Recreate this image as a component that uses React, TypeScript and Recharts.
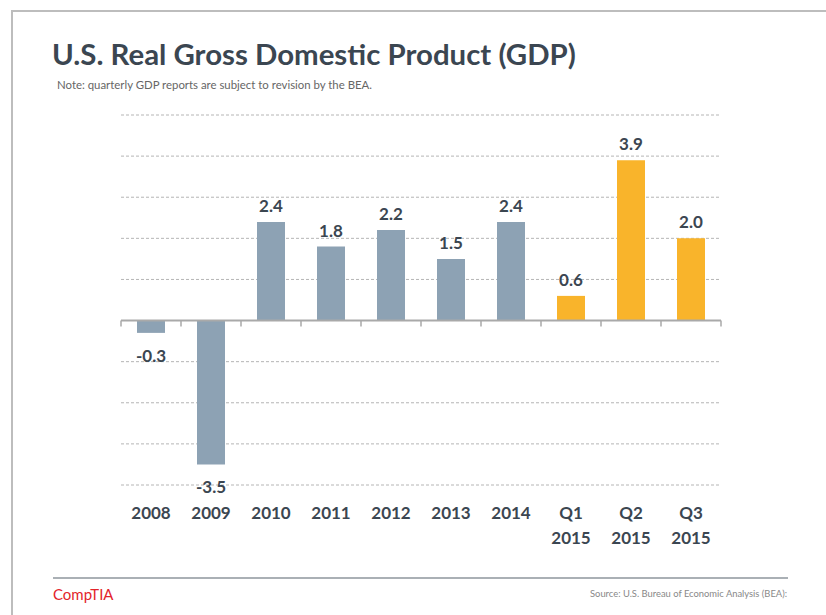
import React from 'react';
import { BarChart, Bar, XAxis, YAxis, CartesianGrid, ReferenceLine, LabelList, Cell } from 'recharts';

// Real GDP growth, percent
const categories = ['2008', '2009', '2010', '2011', '2012', '2013', '2014', 'Q1 2015', 'Q2 2015', 'Q3 2015'];
const growth = [-0.3, -3.5, 2.4, 1.8, 2.2, 1.5, 2.4, 0.6, 3.9, 2.0];
const periods = ['annual', 'annual', 'annual', 'annual', 'annual', 'annual', 'annual', 'quarter', 'quarter', 'quarter'];
const yTicks = [-4, -3, -2, -1, 0, 1, 2, 3, 4, 5];

const data = categories.map((name, i) => ({ name, value: growth[i], period: periods[i] }));

const periodColor: Record<string, string> = {
  annual: '#8da2b4',
  quarter: '#f9b42b',
};

const TEXT = '#3b4651';
const FONT = 'Lato, "Open Sans", sans-serif';

const CategoryTick = (props: any) => {
  const { x, y, payload } = props;
  const lines = String(payload.value).split(' ');
  return (
    <text x={x} y={y} textAnchor="middle" fill={TEXT} fontFamily={FONT} fontWeight={700} fontSize={17}>
      {lines.map((l, i) => (
        <tspan key={i} x={x} dy={i === 0 ? 34 : 25}>{l}</tspan>
      ))}
    </text>
  );
};

const ValueLabel = (props: any) => {
  const { x, y, width, height, value } = props;
  const top = Math.min(y, y + height);
  const bottom = Math.max(y, y + height);
  const ty = value < 0 ? bottom + 29 : top - 10;
  return (
    <text x={x + width / 2} y={ty} textAnchor="middle" fill={TEXT} fontFamily={FONT} fontWeight={700} fontSize={17}>
      {value.toFixed(1)}
    </text>
  );
};

// zero line with category divider ticks
const ZeroLine = (props: any) => {
  const { x1, y1, x2 } = props;
  const n = categories.length;
  const step = (x2 - x1) / n;
  return (
    <g>
      <line x1={x1} y1={y1} x2={x2} y2={y1} stroke="#a9a9a9" strokeWidth={2} />
      {Array.from({ length: n + 1 }, (_, i) => (
        <line key={i} x1={x1 + step * i} y1={y1} x2={x1 + step * i} y2={y1 + 6} stroke="#a9a9a9" strokeWidth={1.5} />
      ))}
    </g>
  );
};

export default function App() {
  return (
    <div style={{ position: 'absolute', left: 0, top: 0, width: 826, height: 615, background: '#fff', overflow: 'hidden' }}>
      <div style={{ position: 'absolute', left: 11, top: 10, width: 830, height: 620, borderTop: '2px solid #bdbdbd', borderLeft: '2px solid #bdbdbd' }} />
      <div style={{ position: 'absolute', left: 52, top: 36, fontFamily: FONT, fontWeight: 700, fontSize: 29.4, color: TEXT, whiteSpace: 'nowrap' }}>
        U.S. Real Gross Domestic Product (GDP)
      </div>
      <div style={{ position: 'absolute', left: 57, top: 78, fontFamily: FONT, fontSize: 11.4, color: '#666', whiteSpace: 'nowrap' }}>
        Note: quarterly GDP reports are subject to revision by the BEA.
      </div>
      <div style={{ position: 'absolute', left: 0, top: 0 }}>
        <BarChart width={826} height={615} data={data} margin={{ top: 115, left: 121, right: 105, bottom: 70 }} barSize={28}>
          <CartesianGrid vertical={false} stroke="#b5b5b5" strokeDasharray="3 2" />
          <YAxis hide domain={[-4, 5]} ticks={yTicks} width={0} />
          <XAxis dataKey="name" axisLine={false} tickLine={false} tickSize={0} tickMargin={0} height={60} interval={0} tick={<CategoryTick />} />
          <Bar dataKey="value" isAnimationActive={false}>
            {data.map((d, i) => (
              <Cell key={i} fill={periodColor[d.period]} />
            ))}
            <LabelList dataKey="value" content={<ValueLabel />} />
          </Bar>
          <ReferenceLine y={0} shape={<ZeroLine />} />
        </BarChart>
      </div>
      <div style={{ position: 'absolute', left: 53, top: 577, width: 735, height: 2, background: '#aab0b5' }} />
      <div style={{ position: 'absolute', left: 53, top: 585, fontFamily: FONT, fontSize: 15, color: '#e3242b', whiteSpace: 'nowrap' }}>
        CompTIA
      </div>
      <div style={{ position: 'absolute', right: 826 - 787, top: 588, fontFamily: FONT, fontSize: 9.4, color: '#888', whiteSpace: 'nowrap' }}>
        Source: U.S. Bureau of Economic Analysis (BEA):
      </div>
    </div>
  );
}
